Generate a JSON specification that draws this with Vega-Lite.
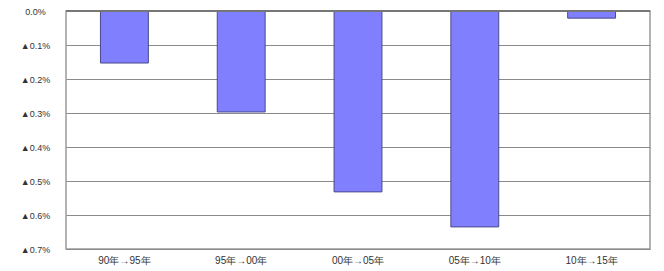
{
  "$schema": "https://vega.github.io/schema/vega-lite/v6.json",
  "width": 584,
  "height": 238,
  "autosize": {"type": "none"},
  "padding": {"left": 66, "top": 11, "right": 14, "bottom": 22},
  "background": "white",
  "title": {
    "text": "基準改定による改定幅の推移",
    "font": "Noto Sans CJK JP",
    "fontSize": 27,
    "fontWeight": "bold",
    "color": "#F7941D",
    "anchor": "middle",
    "frame": "group",
    "baseline": "bottom",
    "offset": 0,
    "dy": 9,
    "dx": -23
  },
  "config": {
    "view": {"stroke": "#9a9a9a", "strokeWidth": 1.5},
    "axis": {"labelFont": "Liberation Sans", "labelColor": "#333333"}
  },
  "data": {
    "values": [
      {"period": "90年→95年", "value": -0.153},
      {"period": "95年→00年", "value": -0.297},
      {"period": "00年→05年", "value": -0.532},
      {"period": "05年→10年", "value": -0.635},
      {"period": "10年→15年", "value": -0.021}
    ]
  },
  "layer": [
    {
      "mark": {"type": "bar", "color": "#8080FF", "stroke": "#4a4a8c", "strokeWidth": 1},
      "encoding": {
        "x": {
          "field": "period",
          "type": "nominal",
          "sort": null,
          "scale": {"paddingInner": 0.59, "paddingOuter": 0.295},
          "axis": {
            "orient": "bottom",
            "title": null,
            "labelAngle": 0,
            "labelFontSize": 10,
            "labelPadding": 6,
            "ticks": false,
            "domain": false
          }
        },
        "y": {
          "field": "value",
          "type": "quantitative",
          "scale": {"domain": [-0.7, 0], "nice": false},
          "axis": {
            "title": null,
            "values": [0, -0.1, -0.2, -0.3, -0.4, -0.5, -0.6, -0.7],
            "tickCount": 20,
            "labelExpr": "datum.value < -0.00001 ? '▲' + format(-datum.value, '.1f') + '%' : '0.0%'",
            "labelAlign": "center",
            "labelPadding": 31,
            "labelFontSize": 9,
            "labelOverlap": false,
            "labelBound": false,
            "ticks": false,
            "domain": false,
            "grid": true,
            "gridColor": "#8a8a8a",
            "gridWidth": 1
          }
        }
      }
    },
    {
      "mark": {"type": "rule", "color": "#777777", "strokeWidth": 1},
      "encoding": {
        "y": {"datum": 0}
      }
    }
  ]
}
